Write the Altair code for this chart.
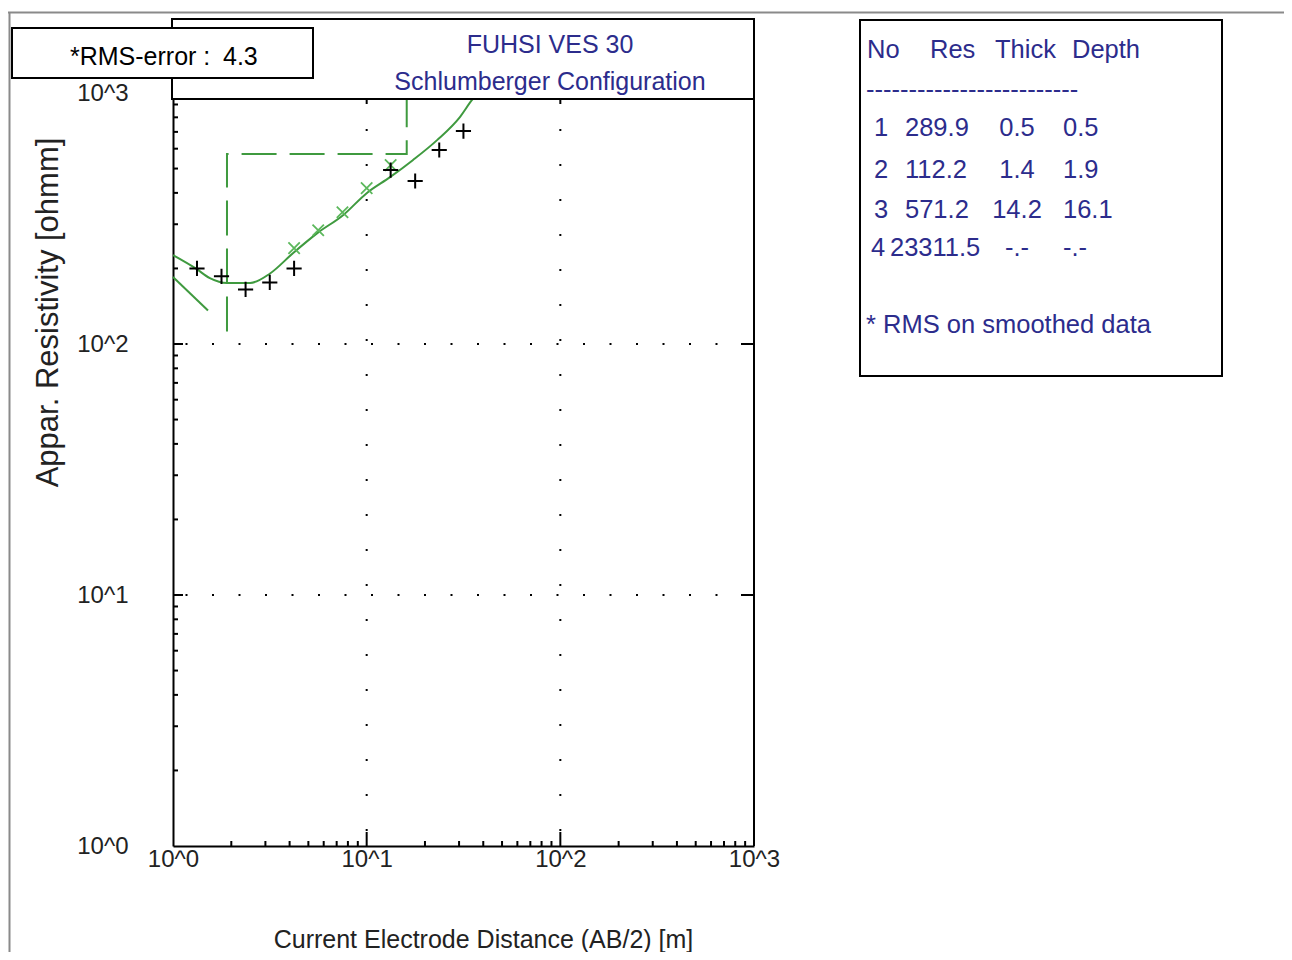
import altair as alt
import pandas as pd

# ---------------- data ----------------
# field data (black +)
field_ab2 = [1.33, 1.78, 2.37, 3.16, 4.22, 13.3, 17.8, 23.7, 31.6]
field_rho = [200, 186, 165, 176, 200, 493, 446, 593, 705]
# smoothed data (green x)
smooth_ab2 = [4.22, 5.62, 7.5, 10.0, 13.3]
smooth_rho = [241, 284, 335, 418, 516]
# computed model curve (green solid)
curve_ab2 = [1.0, 1.31, 1.55, 1.90, 2.50, 3.17, 4.16, 5.54, 7.55, 10.0, 13.2, 17.3, 23.1, 30.3, 35.0, 37.6]
curve_rho = [226, 200, 183, 175, 175, 191, 230, 276, 326, 399, 462, 540, 649, 802, 938, 1000]
# short solid branch at the left edge
branch_ab2 = [1.0, 1.516]
branch_rho = [185, 136]
# layered model (green dashed): depth vs resistivity
model_ab2 = [1.9, 1.9, 16.1, 16.1]
model_rho = [112.2, 571.2, 571.2, 23311.5]

# result table
layer_no = ["1", "2", "3", "4"]
layer_res = ["289.9", "112.2", "571.2", "23311.5"]
layer_thick = ["0.5", "1.4", "14.2", "-.-"]
layer_depth = ["0.5", "1.9", "16.1", "-.-"]
table_head = ["No", "Res", "Thick", "Depth"]

major_ticks = [10, 100]
minor_ticks = [m * 10 ** k for k in range(3) for m in range(2, 10)]
decades = [1, 10, 100, 1000]

title_1 = "FUHSI VES 30"
title_2 = "Schlumberger Configuration"
rms_label = "*RMS-error :"
rms_value = "4.3"
rms_note = "* RMS on smoothed data"

# ---------------- style ----------------
FONT = "Liberation Sans, Arial, sans-serif"
NAVY = "#2c2c8c"
GREEN = "#3f9a3f"
GREEN_X = "#5cb85c"
TXT = "#222222"
W, H = 581, 753

XS = alt.Scale(type="log", domain=[1, 1000])
YS = alt.Scale(type="log", domain=[1, 1000])
LBL = "'10^' + round(log(datum.value)/LN10)"

AX = alt.Axis(values=decades, labelExpr=LBL, ticks=False, grid=False,
              domainColor="black", domainWidth=2, labelFont=FONT, labelFontSize=24,
              labelColor=TXT, labelPadding=1, labelFlush=False, labelOverlap=False,
              title="Current Electrode Distance (AB/2) [m]", titleFont=FONT,
              titleFontSize=25, titleFontWeight="normal", titleColor=TXT,
              titleX=310, titleY=93, titleBaseline="middle", titleAlign="center")
AY = alt.Axis(values=decades, labelExpr=LBL, ticks=False, grid=False,
              domainColor="black", domainWidth=2, labelFont=FONT, labelFontSize=24,
              labelColor=TXT, labelPadding=45, labelFlush=False, labelOverlap=False,
              title="Appar. Resistivity [ohmm]", titleFont=FONT, titleFontSize=31,
              titleFontWeight="normal", titleColor=TXT, titleX=-125, titleY=219,
              titleAngle=270, titleBaseline="middle", titleAlign="center")


def X(f):
    return alt.X(f, type="quantitative", scale=XS, axis=AX)


def Y(f):
    return alt.Y(f, type="quantitative", scale=YS, axis=AY)


def one():
    return pd.DataFrame({"k": [0]})


def label(s, x, y, size=25.5, color=NAVY, align="left", font=FONT, angle=0):
    return alt.Chart(pd.DataFrame({"t": [s]})).mark_text(
        align=align, baseline="middle", fontSize=size, font=font, color=color, angle=angle
    ).encode(x=alt.value(x), y=alt.value(y), text="t:N")


def box(x, x2, y, y2):
    return alt.Chart(one()).mark_rect(fill="white", stroke="black", strokeWidth=2).encode(
        x=alt.value(x), x2=alt.value(x2), y=alt.value(y), y2=alt.value(y2))


layers = []

# dotted grid
gx = pd.DataFrame({"v": major_ticks})
layers.append(alt.Chart(gx).mark_rule(color="black", strokeWidth=2, strokeDash=[2, 33], strokeDashOffset=20)
              .encode(x=X("v"), y=alt.value(H), y2=alt.value(0)))
layers.append(alt.Chart(gx).mark_rule(color="black", strokeWidth=2, strokeDash=[2, 24.5], strokeDashOffset=14)
              .encode(y=Y("v"), x=alt.value(0), x2=alt.value(W)))

# inward ticks
mj = pd.DataFrame({"v": major_ticks})
mn = pd.DataFrame({"v": minor_ticks})
layers.append(alt.Chart(mj).mark_rule(color="black", strokeWidth=2).encode(y=Y("v"), x=alt.value(0), x2=alt.value(10)))
layers.append(alt.Chart(mn).mark_rule(color="black", strokeWidth=2).encode(y=Y("v"), x=alt.value(0), x2=alt.value(5)))
layers.append(alt.Chart(mj).mark_rule(color="black", strokeWidth=2).encode(y=Y("v"), x=alt.value(W - 13), x2=alt.value(W)))
layers.append(alt.Chart(mj).mark_rule(color="black", strokeWidth=2).encode(x=X("v"), y=alt.value(H), y2=alt.value(H - 14)))
layers.append(alt.Chart(mn).mark_rule(color="black", strokeWidth=2).encode(x=X("v"), y=alt.value(H), y2=alt.value(H - 5)))
layers.append(alt.Chart(mj).mark_rule(color="black", strokeWidth=2).encode(x=X("v"), y=alt.value(6), y2=alt.value(11)))

# model (dashed), branch, curve
dm = pd.DataFrame({"ab2": model_ab2, "rho": model_rho, "o": range(len(model_ab2))})
layers.append(alt.Chart(dm).mark_line(color=GREEN, strokeWidth=2, strokeDash=[35, 13], clip=True)
              .encode(x=X("ab2"), y=Y("rho"), order="o:Q"))
db = pd.DataFrame({"ab2": branch_ab2, "rho": branch_rho})
layers.append(alt.Chart(db).mark_line(color=GREEN, strokeWidth=2).encode(x=X("ab2"), y=Y("rho")))
dc = pd.DataFrame({"ab2": curve_ab2, "rho": curve_rho})
layers.append(alt.Chart(dc).mark_line(color=GREEN, strokeWidth=2, interpolate="monotone", clip=True)
              .encode(x=X("ab2"), y=Y("rho")))

# markers
ds = pd.DataFrame({"ab2": smooth_ab2, "rho": smooth_rho})
layers.append(alt.Chart(ds).mark_point(shape="M-1,-1L1,1M1,-1L-1,1", filled=False, color=GREEN_X,
                                       strokeWidth=1.8, size=130, opacity=1)
              .encode(x=X("ab2"), y=Y("rho")))
df = pd.DataFrame({"ab2": field_ab2, "rho": field_rho})
layers.append(alt.Chart(df).mark_point(shape="M-1,0L1,0M0,-1L0,1", filled=False, color="black",
                                       strokeWidth=2, size=230, opacity=1)
              .encode(x=X("ab2"), y=Y("rho")))

# right frame line
layers.append(alt.Chart(one()).mark_rule(color="black", strokeWidth=2)
              .encode(x=alt.value(W), y=alt.value(6), y2=alt.value(H)))

# title box
layers.append(box(-1, W, -74, 6))
layers.append(label(title_1, 377, -48, size=25, align="center"))
layers.append(label(title_2, 377, -11, size=25, align="center"))

# RMS box
layers.append(box(-161, 140, -65, -15))
layers.append(label(rms_label, -103, -36, size=25, color="black"))
layers.append(label(rms_value, 50, -36, size=25, color="black"))

# result table box
layers.append(box(687, 1049, -73, 283))
head_x = [694, 757, 822, 899]
for h, hx in zip(table_head, head_x):
    layers.append(label(h, hx, -43))
layers.append(label("-" * 25, 693, -3))
row_y = [35, 77, 117, 155]
for i in range(len(layer_no)):
    ry = row_y[i]
    layers.append(label(layer_no[i], 701 if len(layer_res[i]) < 6 else 698, ry))
    layers.append(label(layer_res[i], 732 - 7.5 * (len(layer_res[i]) - 5), ry))
    layers.append(label(layer_thick[i], 844, ry, align="center"))
    layers.append(label(layer_depth[i], 890, ry))
layers.append(label(rms_note, 693, 232))

# outer gray frame
layers.append(alt.Chart(one()).mark_rule(color="#8a8a8a", strokeWidth=2)
              .encode(x=alt.value(-165), x2=alt.value(1111), y=alt.value(-80.5)))
layers.append(alt.Chart(one()).mark_rule(color="#8a8a8a", strokeWidth=2)
              .encode(x=alt.value(-163.5), y=alt.value(-80.5), y2=alt.value(859)))

chart = alt.layer(*layers).properties(
    width=W, height=H,
    autosize=alt.AutoSizeParams(type="none"),
    padding={"left": 165, "top": 85, "right": 530, "bottom": 106},
    background="white",
).configure_view(stroke=None)

chart.save("out.html", embed_options={"renderer": "svg", "actions": False})
